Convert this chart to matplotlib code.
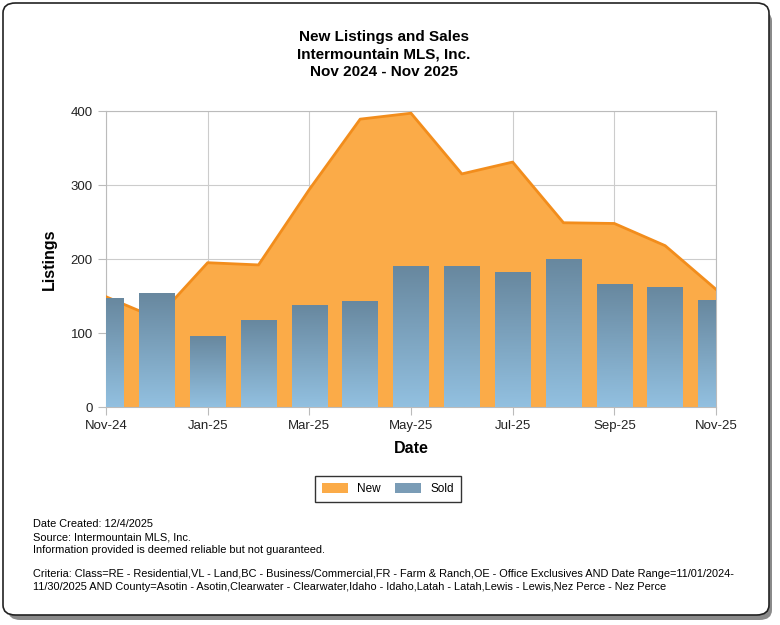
import matplotlib.pyplot as plt
import numpy as np
from matplotlib.colors import LinearSegmentedColormap
from matplotlib.patches import FancyBboxPatch, Patch

plt.rcParams["font.family"] = ["Liberation Sans", "DejaVu Sans"]

months = ["Nov-24", "Dec-24", "Jan-25", "Feb-25", "Mar-25", "Apr-25", "May-25",
          "Jun-25", "Jul-25", "Aug-25", "Sep-25", "Oct-25", "Nov-25"]
new_listings = [149, 120, 195, 192, 294, 389, 397, 315, 331, 249, 248, 218, 159]
sold = [147, 154, 95, 117, 137, 142, 190, 190, 182, 199, 165, 162, 144]

title_lines = ["New Listings and Sales", "Intermountain MLS, Inc.", "Nov 2024 - Nov 2025"]
footer_lines = [
    "Date Created: 12/4/2025",
    "Source: Intermountain MLS, Inc.",
    "Information provided is deemed reliable but not guaranteed.",
]
criteria_lines = [
    "Criteria: Class=RE - Residential,VL - Land,BC - Business/Commercial,FR - Farm & Ranch,"
    "OE - Office Exclusives AND Date Range=11/01/2024-",
    "11/30/2025 AND County=Asotin - Asotin,Clearwater - Clearwater,Idaho - Idaho,Latah - Latah,"
    "Lewis - Lewis,Nez Perce - Nez Perce",
]

ORANGE_FILL = "#fbab48"
ORANGE_LINE = "#f28d1c"
BAR_TOP = "#68889f"
BAR_BOTTOM = "#92c0e0"
W, H = 780, 625

fig = plt.figure(figsize=(W / 100, H / 100), dpi=100)

# frame with shadow
shadow = FancyBboxPatch((8 / W, 5 / H), 764 / W, 609 / H,
                        boxstyle="round,pad=0,rounding_size=0.016",
                        transform=fig.transFigure, facecolor="#8a8a8a",
                        edgecolor="none", zorder=0)
frame = FancyBboxPatch((3 / W, 10 / H), 766 / W, 612 / H,
                       boxstyle="round,pad=0,rounding_size=0.016",
                       transform=fig.transFigure, facecolor="white",
                       edgecolor="#222222", linewidth=1.2, zorder=1)
fig.patches.extend([shadow, frame])

ax = fig.add_axes([106 / W, 1 - 407 / H, 610 / W, 296 / H])
ax.set_zorder(2)
ax.patch.set_alpha(0)

x = np.arange(len(months))
ax.fill_between(x, new_listings, color=ORANGE_FILL, zorder=2, linewidth=0)
ax.plot(x, new_listings, color=ORANGE_LINE, linewidth=2, zorder=3)

cmap = LinearSegmentedColormap.from_list("bar", [BAR_BOTTOM, BAR_TOP])
grad = np.linspace(0, 1, 100).reshape(-1, 1)
bar_w = 0.7
for xi, v in zip(x, sold):
    ax.imshow(grad, extent=[xi - bar_w / 2, xi + bar_w / 2, 0, v], origin="lower",
              aspect="auto", cmap=cmap, zorder=4)

ax.set_xlim(0, len(months) - 1)
ax.set_ylim(0, 400)
ax.set_xticks(x[::2])
ax.set_xticklabels(months[::2])
ax.set_yticks([0, 100, 200, 300, 400])
ax.grid(True, color="#cccccc", linewidth=0.8, zorder=1)
ax.set_axisbelow(True)
for s in ax.spines.values():
    s.set_color("#bbbbbb")
    s.set_linewidth(0.8)
ax.tick_params(colors="#bbbbbb", labelcolor="#222222", labelsize=9.5, length=6, width=0.8)

ax.set_xlabel("Date", fontsize=11.5, fontweight="bold", labelpad=6)
ax.set_ylabel("Listings", fontsize=11.5, fontweight="bold", labelpad=10)

for i, line in enumerate(title_lines):
    fig.text(384 / W, 1 - (37 + i * 17.5) / H, line, ha="center", va="center",
             fontsize=11, fontweight="bold")

handles = [Patch(facecolor=ORANGE_FILL, edgecolor="none", label="New"),
           Patch(facecolor="#7a9cb6", edgecolor="none", label="Sold")]
leg = fig.legend(handles=handles, loc="center", bbox_to_anchor=(388 / W, 1 - 489 / H),
                 ncol=2, fontsize=8.5, frameon=True, fancybox=False,
                 handlelength=2.2, handleheight=0.9, columnspacing=1.2,
                 borderpad=0.6)
leg.get_frame().set_edgecolor("black")
leg.get_frame().set_linewidth(1)
leg.set_zorder(5)

for i, line in enumerate(footer_lines):
    fig.text(33 / W, 1 - (524 + i * 13) / H, line, ha="left", va="center", fontsize=7.9)
for i, line in enumerate(criteria_lines):
    fig.text(33 / W, 1 - (574 + i * 13) / H, line, ha="left", va="center", fontsize=7.9)

fig.savefig("out.png", dpi=100)
